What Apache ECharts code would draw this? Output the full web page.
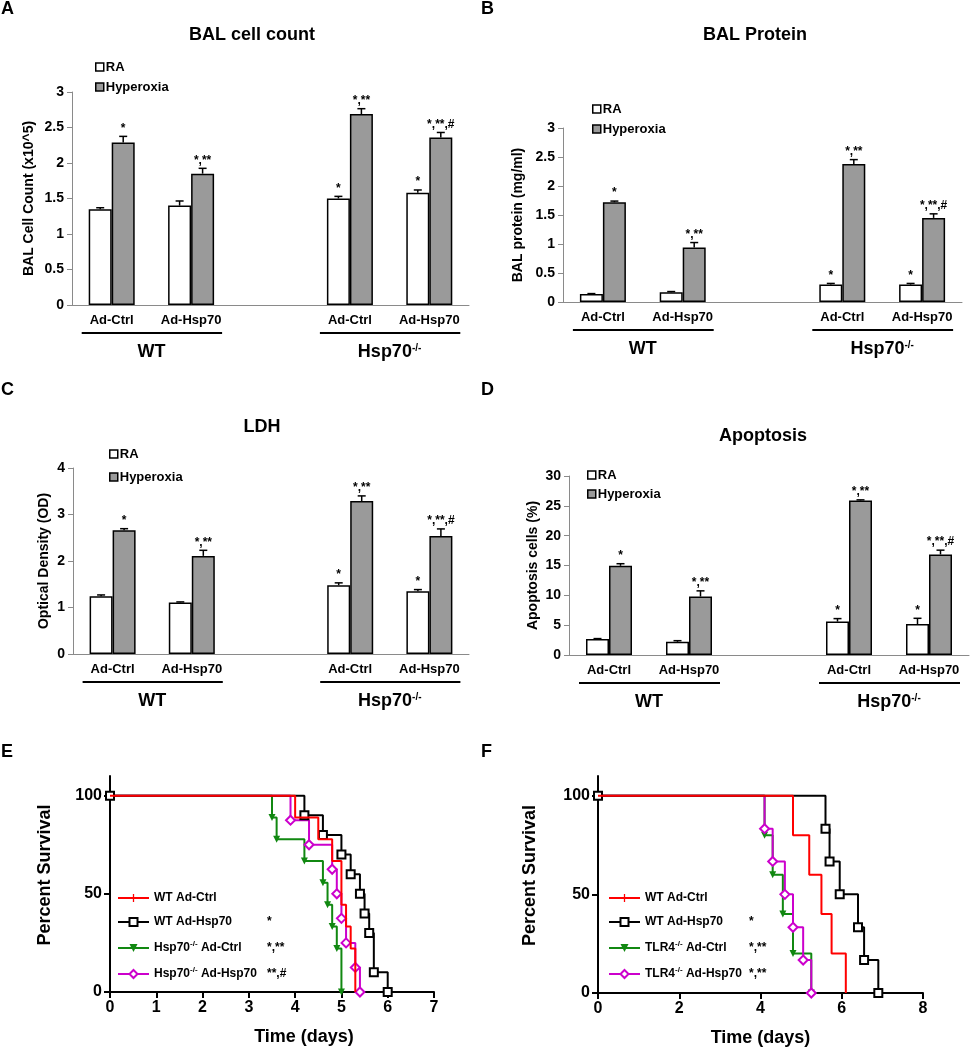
<!DOCTYPE html>
<html>
<head>
<meta charset="utf-8">
<script src="https://cdn.jsdelivr.net/npm/echarts@6/dist/echarts.min.js"></script>
<style>
  html, body { margin: 0; padding: 0; background: #fff; }
  #main { width: 970px; height: 1050px; }
</style>
</head>
<body>
<div id="main"></div>
<script>
const FONT = '"Liberation Sans", Arial, sans-serif';

// ---- bar panels (A-D) ----
const barGroups = ['Ad-Ctrl', 'Ad-Hsp70', '', 'Ad-Ctrl', 'Ad-Hsp70'];
const sigRA = ['', '', '', '*', '*'];
const sigHyper = ['*', '*,**', '', '*,**', '*,**,#'];

// A: BAL cell count (x10^5)
const cellRA = [1.35, 1.40, null, 1.50, 1.58];
const cellRAErr = [0.02, 0.065, null, 0.03, 0.04];
const cellHyper = [2.29, 1.85, null, 2.69, 2.36];
const cellHyperErr = [0.085, 0.075, null, 0.075, 0.07];

// B: BAL protein (mg/ml)
const protRA = [0.14, 0.17, null, 0.30, 0.30];
const protRAErr = [0.005, 0.01, null, 0.02, 0.02];
const protHyper = [1.72, 0.94, null, 2.38, 1.45];
const protHyperErr = [0.02, 0.085, null, 0.075, 0.07];

// C: LDH optical density
const ldhRA = [1.24, 1.11, null, 1.48, 1.35];
const ldhRAErr = [0.03, 0.01, null, 0.05, 0.035];
const ldhHyper = [2.66, 2.11, null, 3.29, 2.54];
const ldhHyperErr = [0.035, 0.12, null, 0.11, 0.15];

// D: apoptosis cells (%)
const apoRA = [2.7, 2.2, null, 5.6, 5.2];
const apoRAErr = [0.05, 0.2, null, 0.5, 0.95];
const apoHyper = [14.95, 9.8, null, 25.9, 16.85];
const apoHyperErr = [0.35, 0.95, null, 0.1, 0.72];

// ---- survival panels (E, F): [day, percent] at each step ----
const survTicks = [0, 50, 100];
const eWtCtrl = [[0, 100], [4.0, 88.9], [4.5, 77.8], [4.8, 66.7], [5.0, 44.4], [5.1, 33.3], [5.2, 22.2], [5.3, 0]];
const eWtHsp = [[0, 100], [4.2, 90], [4.6, 80], [5.0, 70], [5.2, 60], [5.4, 50], [5.5, 40], [5.6, 30], [5.7, 10], [6.0, 0]];
const eKoCtrl = [[0, 100], [3.5, 88.9], [3.6, 77.8], [4.2, 66.7], [4.6, 55.6], [4.7, 44.4], [4.8, 33.3], [4.9, 22.2], [5.0, 0]];
const eKoHsp = [[0, 100], [3.9, 87.5], [4.3, 75], [4.8, 62.5], [4.9, 50], [5.0, 37.5], [5.1, 25], [5.3, 12.5], [5.4, 0]];
const eNames = ['WT Ad-Ctrl', 'WT Ad-Hsp70', 'Hsp70-/- Ad-Ctrl', 'Hsp70-/- Ad-Hsp70'];
const eStars = ['', '*', '*,**', '**,#'];

const fWtCtrl = [[0, 100], [4.8, 80], [5.2, 60], [5.5, 40], [5.75, 20], [6.1, 0]];
const fWtHsp = [[0, 100], [5.6, 83.3], [5.7, 66.7], [5.95, 50], [6.4, 33.3], [6.55, 16.7], [6.9, 0]];
const fTlrCtrl = [[0, 100], [4.1, 80], [4.3, 60], [4.55, 40], [4.8, 20], [5.25, 0]];
const fTlrHsp = [[0, 100], [4.1, 83.3], [4.3, 66.7], [4.6, 50], [4.8, 33.3], [5.05, 16.7], [5.25, 0]];
const fNames = ['WT Ad-Ctrl', 'WT Ad-Hsp70', 'TLR4-/- Ad-Ctrl', 'TLR4-/- Ad-Hsp70'];
const fStars = ['', '*', '*,**', '*,**'];

// layout of each panel
const barPanels = [
    { letter: 'A', title: 'BAL cell count', yName: 'BAL Cell Count (x10^5)', ra: cellRA, raErr: cellRAErr, hy: cellHyper, hyErr: cellHyperErr,
      max: 3, interval: 0.5, grid: { left: 72, top: 92, width: 397, height: 213 }, nameGap: 36,
      legend: { left: 95, top: 60, itemGap: 6 }, titleAt: [252, 35], letterAt: [1, 0] },
    { letter: 'B', title: 'BAL Protein', yName: 'BAL protein (mg/ml)', ra: protRA, raErr: protRAErr, hy: protHyper, hyErr: protHyperErr,
      max: 3, interval: 0.5, grid: { left: 563, top: 128, width: 399, height: 174 }, nameGap: 38,
      legend: { left: 592, top: 102, itemGap: 6 }, titleAt: [755, 35], letterAt: [481, 0] },
    { letter: 'C', title: 'LDH', yName: 'Optical Density (OD)', ra: ldhRA, raErr: ldhRAErr, hy: ldhHyper, hyErr: ldhHyperErr,
      max: 4, interval: 1, grid: { left: 73, top: 468, width: 396, height: 186 }, nameGap: 22,
      legend: { left: 109, top: 447, itemGap: 9 }, titleAt: [262, 427], letterAt: [1, 381] },
    { letter: 'D', title: 'Apoptosis', yName: 'Apoptosis cells (%)', ra: apoRA, raErr: apoRAErr, hy: apoHyper, hyErr: apoHyperErr,
      max: 30, interval: 5, grid: { left: 569, top: 476, width: 400, height: 179 }, nameGap: 29,
      legend: { left: 587, top: 468, itemGap: 5 }, titleAt: [763, 436], letterAt: [481, 381] }
];

// red curve uses a thin vertical tick as its legend mark (empty corners keep the box square)
const kmStyles = [
    { color: '#ff0000', symbol: 'path://M0,0L0,0Z M4.2,0H5.8V10H4.2Z M10,10L10,10Z', size: 10, showSymbol: false, hollow: false, z: 4 },
    { color: '#000000', symbol: 'rect', size: 8, showSymbol: true, hollow: true, z: 3, showStart: true },
    { color: '#118811', symbol: 'triangle', size: 7, rotate: 180, showSymbol: true, hollow: false, z: 2 },
    { color: '#cc00cc', symbol: 'diamond', size: 9, showSymbol: true, hollow: true, z: 2 }
];

const kmPanels = [
    { letter: 'E', curves: [eWtCtrl, eWtHsp, eKoCtrl, eKoHsp], names: eNames, stars: eStars, starCol: 113,
      xMax: 7, xInterval: 1, grid: { left: 110, top: 776, width: 324, height: 216 }, yNameGap: 56, xNamePad: [0, 0, 0, 64],
      legend: { left: 117, top: 892 }, letterAt: [1, 743] },
    { letter: 'F', curves: [fWtCtrl, fWtHsp, fTlrCtrl, fTlrHsp], names: fNames, stars: fStars, starCol: 104,
      xMax: 8, xInterval: 2, grid: { left: 598, top: 776, width: 325, height: 217 }, yNameGap: 59, xNamePad: [0, 0, 0, 0],
      legend: { left: 608, top: 892 }, letterAt: [481, 743] }
];

const measureCtx = document.createElement('canvas').getContext('2d');
function textWidth (s, size) {
    measureCtx.font = 'bold ' + size + 'px ' + FONT;
    return measureCtx.measureText(s).width;
}

const boldText = (size) => ({ fontSize: size, fontWeight: 'bold', color: '#000', fontFamily: FONT });

function errorSeries (k, vals, errs, sigs, offset) {
    const idx = [];
    vals.forEach((v, i) => { if (v != null) idx.push(i); });
    return {
        type: 'custom',
        xAxisIndex: k,
        yAxisIndex: k,
        z: 5,
        silent: true,
        data: idx.map(i => [i, vals[i], errs[i]]),
        encode: { x: 0, y: 1 },
        renderItem (params, api) {
            const i = idx[params.dataIndex];
            const base = api.coord([api.value(0), api.value(1)]);
            const tip = api.coord([api.value(0), api.value(1) + api.value(2)]);
            const x = base[0] + offset;
            return {
                type: 'group',
                children: [
                    { type: 'line', shape: { x1: x, y1: base[1], x2: x, y2: tip[1] }, style: { stroke: '#000', lineWidth: 1.5 } },
                    { type: 'line', shape: { x1: x - 4, y1: tip[1], x2: x + 4, y2: tip[1] }, style: { stroke: '#000', lineWidth: 1.5 } },
                    { type: 'text', x: x, y: tip[1] - 2,
                      style: { text: sigs[i], align: 'center', verticalAlign: 'bottom', fontSize: 12, fontWeight: 'bold', fontFamily: FONT, fill: '#000' } }
                ]
            };
        }
    };
}

const option = {
    animation: false,
    backgroundColor: '#fff',
    textStyle: { fontFamily: FONT },
    grid: [],
    xAxis: [],
    yAxis: [],
    legend: [],
    series: []
};

barPanels.forEach((p, k) => {
    option.grid.push(Object.assign({}, p.grid));
    option.xAxis.push({
        type: 'category',
        gridIndex: k,
        data: barGroups,
        axisLine: { lineStyle: { color: '#8a8a8a', width: 1 } },
        axisTick: { length: 4, lineStyle: { color: '#8a8a8a' } },
        axisLabel: Object.assign({ interval: 0, margin: 9 }, boldText(13))
    });
    option.yAxis.push({
        type: 'value',
        gridIndex: k,
        min: 0,
        max: p.max,
        interval: p.interval,
        name: p.yName,
        nameLocation: 'middle',
        nameGap: p.nameGap,
        nameTextStyle: boldText(14),
        splitLine: { show: false },
        axisLine: { show: true, lineStyle: { color: '#8a8a8a', width: 1 } },
        axisTick: { show: true, length: 5, lineStyle: { color: '#8a8a8a' } },
        axisLabel: Object.assign({ margin: 8 }, boldText(14))
    });
    option.series.push({
        type: 'bar', name: 'RA', xAxisIndex: k, yAxisIndex: k, data: p.ra,
        barWidth: 23, barGap: '0%',
        itemStyle: { color: '#ffffff', borderColor: '#000', borderWidth: 1.5 }
    });
    option.series.push({
        type: 'bar', name: 'Hyperoxia', xAxisIndex: k, yAxisIndex: k, data: p.hy,
        barWidth: 23, barGap: '0%',
        itemStyle: { color: '#9a9a9a', borderColor: '#000', borderWidth: 1.5 }
    });
    option.series.push(errorSeries(k, p.ra, p.raErr, sigRA, -11.5));
    option.series.push(errorSeries(k, p.hy, p.hyErr, sigHyper, 11.5));
    option.legend.push({
        data: ['RA', 'Hyperoxia'],
        orient: 'vertical',
        left: p.legend.left,
        top: p.legend.top,
        itemGap: p.legend.itemGap,
        itemWidth: 8,
        itemHeight: 8,
        icon: 'rect',
        padding: 0,
        selectedMode: false,
        itemStyle: { borderColor: '#000', borderWidth: 1.5 },
        textStyle: Object.assign({ lineHeight: 14, padding: [0, 0, 0, -3] }, boldText(13))
    });
});

kmPanels.forEach((p, j) => {
    const g = barPanels.length + j;
    option.grid.push(Object.assign({}, p.grid));
    option.xAxis.push({
        type: 'value',
        gridIndex: g,
        min: 0,
        max: p.xMax,
        interval: p.xInterval,
        name: 'Time (days)',
        nameLocation: 'middle',
        nameGap: 36,
        nameTextStyle: Object.assign({ padding: p.xNamePad }, boldText(18)),
        splitLine: { show: false },
        axisLine: { lineStyle: { color: '#000', width: 2 } },
        axisTick: { length: 6, lineStyle: { color: '#000', width: 2 } },
        axisLabel: Object.assign({ margin: 8 }, boldText(16))
    });
    option.yAxis.push({
        type: 'value',
        gridIndex: g,
        min: 0,
        max: 110,
        name: 'Percent Survival',
        nameLocation: 'middle',
        nameGap: p.yNameGap,
        nameTextStyle: Object.assign({ padding: [0, 0, 0, 18] }, boldText(18)),
        splitLine: { show: false },
        axisLine: { show: true, lineStyle: { color: '#000', width: 2 } },
        axisTick: { show: true, length: 6, customValues: survTicks, lineStyle: { color: '#000', width: 2 } },
        axisLabel: Object.assign({ margin: 8, customValues: survTicks }, boldText(16))
    });

    const rich = {
        n: Object.assign({ lineHeight: 16 }, boldText(12)),
        u: Object.assign({ lineHeight: 9, verticalAlign: 'top' }, boldText(8))
    };
    const labels = {};
    p.names.forEach((name, i) => {
        const parts = name.split('-/-');
        let s, used;
        if (parts.length === 2) {
            s = '{n|' + parts[0] + '}{u|-/-}{n|' + parts[1] + '}';
            used = textWidth(parts[0], 12) + textWidth('-/-', 8) + textWidth(parts[1], 12);
        } else {
            s = '{n|' + name + '}';
            used = textWidth(name, 12);
        }
        rich['g' + i] = { width: Math.max(4, p.starCol - used), lineHeight: 16 };
        labels[name] = s + '{g' + i + '| }{n|' + p.stars[i] + '}';
    });

    p.curves.forEach((pts, i) => {
        const st = kmStyles[i];
        option.series.push({
            type: 'line',
            name: p.names[i],
            xAxisIndex: g,
            yAxisIndex: g,
            step: 'end',
            z: st.z,
            showSymbol: st.showSymbol,
            symbol: st.symbol,
            symbolSize: st.size,
            symbolRotate: st.rotate || 0,
            data: pts.map((pt, n) => (n === 0 && !st.showStart) ? { value: pt, symbol: 'none' } : pt),
            lineStyle: { color: st.color, width: 2 },
            itemStyle: st.hollow
                ? { color: '#ffffff', borderColor: st.color, borderWidth: 2 }
                : { color: st.color, borderColor: st.color, borderWidth: 0 }
        });
    });

    option.legend.push({
        data: p.names,
        orient: 'vertical',
        left: p.legend.left,
        top: p.legend.top,
        itemGap: 12,
        itemWidth: 31,
        itemHeight: 10,
        padding: 0,
        selectedMode: false,
        formatter: (name) => labels[name],
        textStyle: { rich: rich }
    });
});

const chart = echarts.init(document.getElementById('main'));
chart.setOption(option);

// titles, panel letters and the WT / Hsp70-/- group brackets under the bar charts
const graphics = [];
const supRich = {
    b: boldText(18),
    s: Object.assign({ verticalAlign: 'top', lineHeight: 12 }, boldText(10))
};
barPanels.forEach((p, k) => {
    graphics.push({ type: 'text', x: p.titleAt[0], y: p.titleAt[1],
        style: { text: p.title, align: 'center', verticalAlign: 'middle', font: 'bold 18px ' + FONT, fill: '#000' } });
    graphics.push({ type: 'text', x: p.letterAt[0], y: p.letterAt[1],
        style: { text: p.letter, align: 'left', verticalAlign: 'top', font: 'bold 18px ' + FONT, fill: '#000' } });
    const c = [0, 1, 3, 4].map(i => chart.convertToPixel({ gridIndex: k }, [i, 0]));
    const axisY = c[0][1];
    [[c[0][0], c[1][0], '{b|WT}'], [c[2][0], c[3][0], '{b|Hsp70}{s|-/-}']].forEach(([a, b, label]) => {
        graphics.push({ type: 'line', shape: { x1: a - 30, y1: axisY + 28, x2: b + 31, y2: axisY + 28 },
            style: { stroke: '#000', lineWidth: 2 } });
        graphics.push({ type: 'text', x: (a + b) / 2, y: axisY + 47,
            style: { text: label, rich: supRich, align: 'center', verticalAlign: 'middle' } });
    });
});
kmPanels.forEach((p) => {
    graphics.push({ type: 'text', x: p.letterAt[0], y: p.letterAt[1],
        style: { text: p.letter, align: 'left', verticalAlign: 'top', font: 'bold 18px ' + FONT, fill: '#000' } });
});
chart.setOption({ graphic: graphics });
</script>
</body>
</html>
